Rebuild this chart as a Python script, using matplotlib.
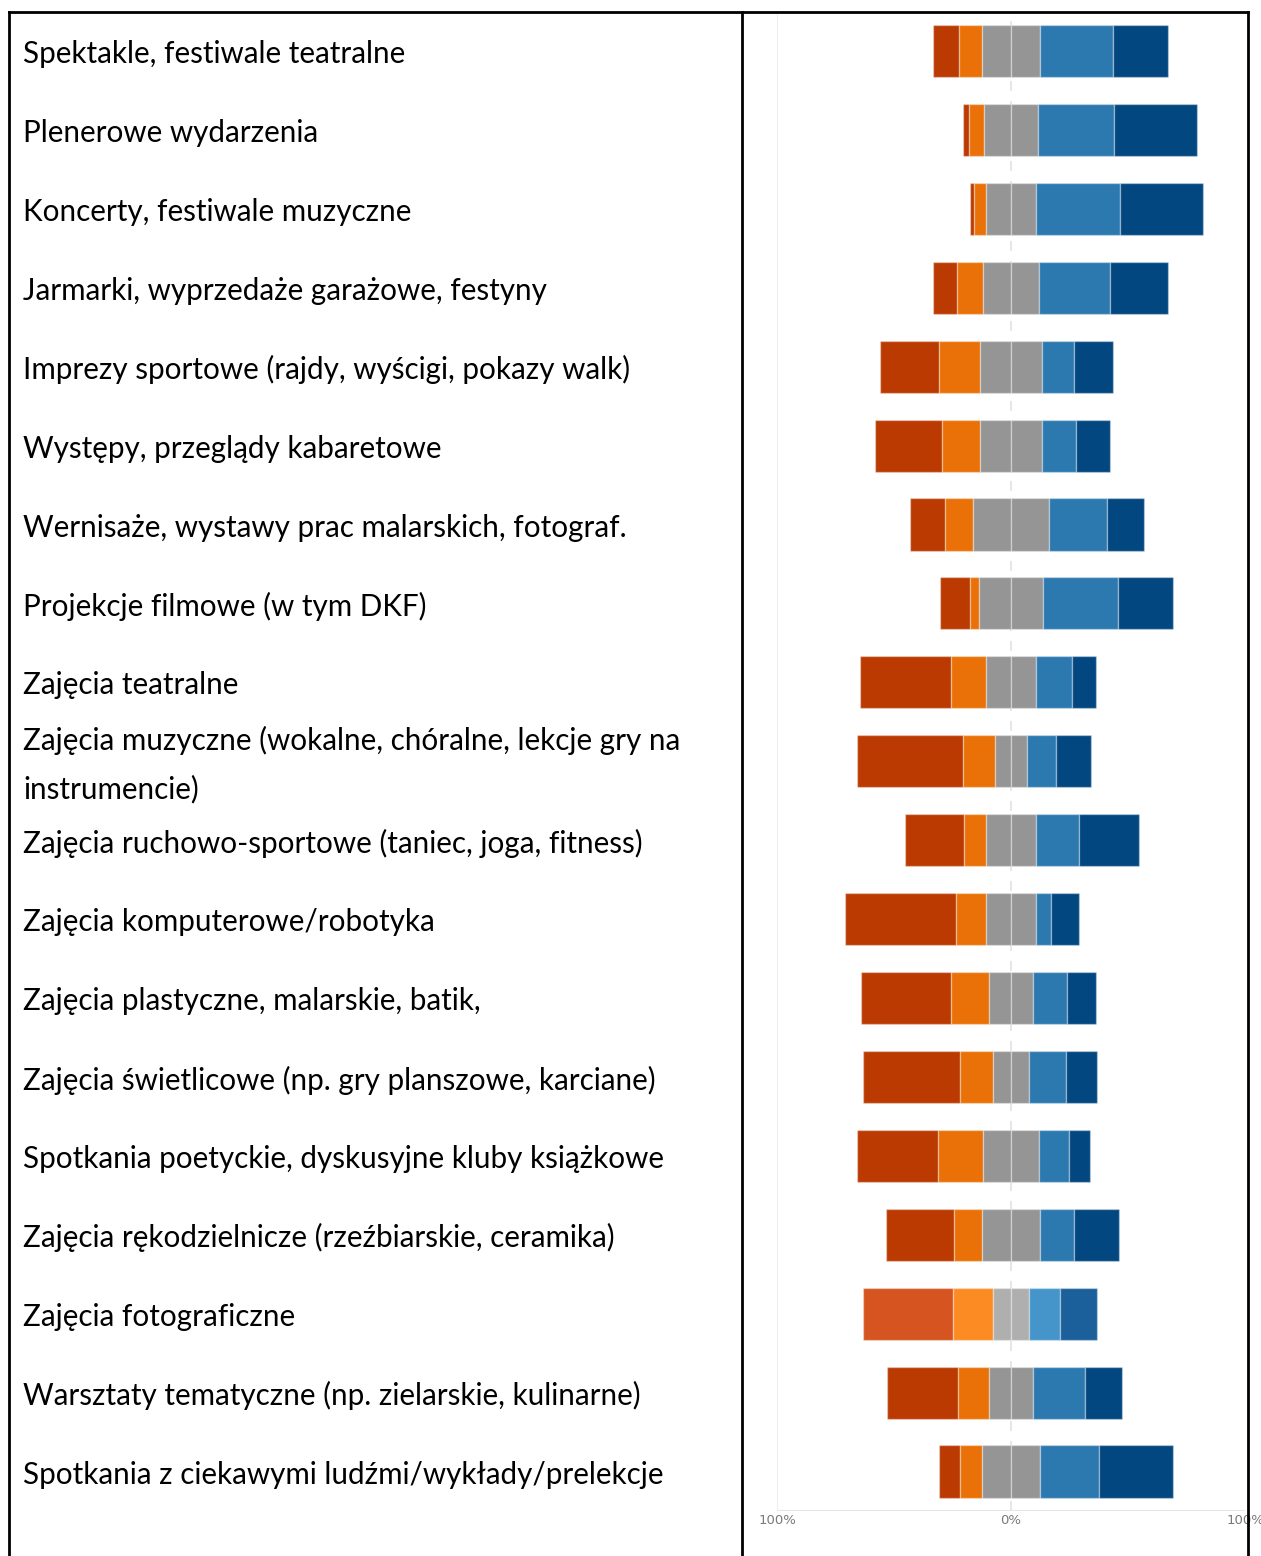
import matplotlib
matplotlib.use("Agg")
import matplotlib.pyplot as plt
import matplotlib.transforms as mtransforms
import numpy as np

# Categories (top to bottom)
categories = [
    "Spektakle, festiwale teatralne",
    "Plenerowe wydarzenia",
    "Koncerty, festiwale muzyczne",
    "Jarmarki, wyprzedaże garażowe, festyny",
    "Imprezy sportowe (rajdy, wyścigi, pokazy walk)",
    "Występy, przeglądy kabaretowe",
    "Wernisaże, wystawy prac malarskich, fotograf.",
    "Projekcje filmowe (w tym DKF)",
    "Zajęcia teatralne",
    "Zajęcia muzyczne (wokalne, chóralne, lekcje gry na\ninstrumencie)",
    "Zajęcia ruchowo-sportowe (taniec, joga, fitness)",
    "Zajęcia komputerowe/robotyka",
    "Zajęcia plastyczne, malarskie, batik,",
    "Zajęcia świetlicowe (np. gry planszowe, karciane)",
    "Spotkania poetyckie, dyskusyjne kluby książkowe",
    "Zajęcia rękodzielnicze (rzeźbiarskie, ceramika)",
    "Zajęcia fotograficzne",
    "Warsztaty tematyczne (np. zielarskie, kulinarne)",
    "Spotkania z ciekawymi ludźmi/wykłady/prelekcje",
]

# Shares of answers in %
strong_neg = [11.0, 2.7, 2.1, 10.1, 25.2, 28.6, 14.7, 12.8, 38.9, 45.1,
              25.1, 47.6, 38.3, 41.5, 34.7, 29.2, 38.3, 30.5, 9.0]
neg = [10.1, 6.3, 4.9, 11.1, 17.8, 16.4, 12.1, 3.8, 14.8, 13.8,
       9.4, 12.7, 16.4, 14.3, 19.2, 11.8, 17.3, 13.4, 9.6]
neutral = [24.4, 23.2, 21.4, 24.2, 26.2, 26.2, 32.5, 27.6, 21.4, 13.5,
           21.4, 21.4, 18.4, 15.1, 24.2, 25.2, 15.1, 18.4, 24.4]
pos = [31.3, 32.5, 36.0, 30.3, 14.0, 14.7, 24.6, 32.1, 15.5, 12.3,
       18.2, 6.2, 14.8, 15.8, 12.6, 14.5, 13.2, 22.4, 25.2]
strong_pos = [23.6, 35.2, 35.3, 24.6, 16.7, 14.4, 16.1, 23.5, 10.1, 15.3,
              25.9, 12.1, 12.5, 13.4, 9.0, 19.1, 16.1, 15.8, 31.9]

tick_values = [-100, 0, 100]
tick_labels = ["100%", "0%", "100%"]

colors = ["#BA3A02", "#EA7108", "#959595", "#2C79B0", "#034780"]
colors_hl = ["#D5541F", "#FD8B23", "#AFAFAF", "#4595CB", "#1C609B"]
highlight_row = 16

W, H = 1261, 1556
fig = plt.figure(figsize=(W / 100, H / 100), dpi=100)

# chart axes: -100% at x=777, 100% at x=1245; rows from y=11.5 to 1511
ax = fig.add_axes([777 / W, 1 - 1511 / H, 468 / W, (1511 - 11.5) / H])
ax.set_xlim(-100, 100)
ax.set_ylim(len(categories) - 0.5, -0.5)

sn = np.array(strong_neg)
ng = np.array(neg)
nu = np.array(neutral)
ps = np.array(pos)
sp = np.array(strong_pos)
y = np.arange(len(categories))

start = -(sn + ng + nu / 2)
segments = [sn, ng, nu / 2, nu / 2, ps, sp]
seg_colors = [0, 1, 2, 2, 3, 4]
left = start.copy()
for seg, ci in zip(segments, seg_colors):
    cols = [colors_hl[ci] if i == highlight_row else colors[ci] for i in range(len(y))]
    ax.barh(y, seg, left=left, height=0.66, color=cols,
            edgecolor=(1, 1, 1, 0.35), linewidth=1.0, zorder=3)
    left = left + seg

# guide lines
ax.axvline(0, color="#E3E3E3", lw=1.2, ls=(0, (6, 6)), zorder=1)
ax.axvline(-100, color="#ECECEC", lw=1.2, zorder=1)
ax.axhline(len(categories) - 0.5, color="#E6E6E6", lw=1.5, zorder=1)

ax.set_xticks(tick_values)
ax.set_xticklabels(tick_labels, fontsize=9.5, color="#7A7A7A", family="Liberation Sans Narrow")
ax.tick_params(axis="x", length=0, pad=2)
ax.set_yticks([])
for s in ax.spines.values():
    s.set_visible(False)
ax.patch.set_alpha(0)

# labels in the left table column
trans = mtransforms.blended_transform_factory(fig.transFigure, ax.transData)
for i, lab in enumerate(categories):
    fig.text(23 / W, i + 0.04, lab, transform=trans, ha="left", va="center",
             fontsize=21.3, family="Lato", color="black", linespacing=1.85)

# table borders
border = dict(color="black", lw=2, transform=fig.transFigure, clip_on=False)
fig.add_artist(plt.Line2D([9 / W, 1248 / W], [1 - 12 / H, 1 - 12 / H], **border))
for xpix in [9, 742, 1248]:
    fig.add_artist(plt.Line2D([xpix / W, xpix / W], [0, 1 - 12 / H], **border))

fig.savefig("out.png", dpi=100)
